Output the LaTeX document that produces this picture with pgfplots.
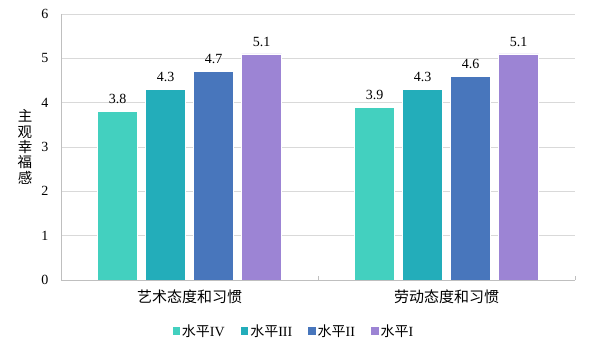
\documentclass[border=0pt]{standalone}
\usepackage{fontspec}
\setmainfont{Liberation Serif}
\newfontfamily\cjk{Noto Sans CJK SC}
\usepackage{pgfplots}
\pgfplotsset{compat=1.18}
\definecolor{c1}{HTML}{43D0BF}
\definecolor{c2}{HTML}{23ADBA}
\definecolor{c3}{HTML}{4876BC}
\definecolor{c4}{HTML}{9C84D4}
\definecolor{gridc}{HTML}{D9D9D9}
\definecolor{axc}{HTML}{BFBFBF}
\begin{document}
\begin{tikzpicture}
\useasboundingbox (0,0) rectangle (591bp,352bp);
\begin{axis}[
  at={(61bp,72bp)}, anchor=south west,
  scale only axis, width=514bp, height=266bp,
  ybar=8bp, bar width=40bp,
  xmin=-0.5, xmax=1.5, ymin=0, ymax=6,
  xtick={0,1},
  xticklabels={{\cjk 艺术态度和习惯},{\cjk 劳动态度和习惯}},
  ytick={0,1,2,3,4,5,6},
  ymajorgrids, grid style={draw=gridc, line width=0.8bp},
  axis x line*=bottom, axis y line*=left,
  axis line style={draw=axc, line width=0.8bp, -},
  tick style={draw=axc, line width=0.8bp},
  major tick length=0pt,
  extra x ticks={-0.5,0.5,1.5}, extra x tick labels={},
  extra x tick style={major tick length=4bp, tick align=inside, grid=none},
  /pgf/number format/assume math mode=true,
  tick label style={font=\fontsize{14bp}{16bp}\selectfont},
  xticklabel style={font=\fontsize{15bp}{17bp}\selectfont, yshift=-6bp},
  yticklabel style={xshift=-9bp},
  ylabel={\cjk 主\\\cjk 观\\\cjk 幸\\\cjk 福\\\cjk 感},
  ylabel style={rotate=-90, align=center, font=\fontsize{14.5bp}{15.4bp}\selectfont, at={(rel axis cs:0,0.5)}, anchor=center, xshift=-36bp},
  nodes near coords,
  every node near coord/.append style={font=\fontsize{14bp}{16bp}\selectfont, yshift=4bp, /pgf/number format/fixed, /pgf/number format/precision=1, /pgf/number format/fixed zerofill},
  legend columns=4,
  legend style={at={(rel axis cs:0.453,-0.192)}, anchor=center, draw=none, fill=none,
    font=\fontsize{14bp}{16bp}\selectfont,
    /tikz/every even column/.append style={column sep=14bp}},
  legend image code/.code={\fill[#1, draw=none] (0bp,-3.75bp) rectangle (7.5bp,3.75bp);},
]
\addplot[fill=c1, draw=white, line width=0.4bp] coordinates {(0,3.8) (1,3.9)};
\addplot[fill=c2, draw=white, line width=0.4bp] coordinates {(0,4.3) (1,4.3)};
\addplot[fill=c3, draw=white, line width=0.4bp] coordinates {(0,4.7) (1,4.6)};
\addplot[fill=c4, draw=white, line width=0.4bp] coordinates {(0,5.1) (1,5.1)};
\legend{{\cjk 水平}IV,{\cjk 水平}III,{\cjk 水平}II,{\cjk 水平}I}
\end{axis}
\end{tikzpicture}
\end{document}
